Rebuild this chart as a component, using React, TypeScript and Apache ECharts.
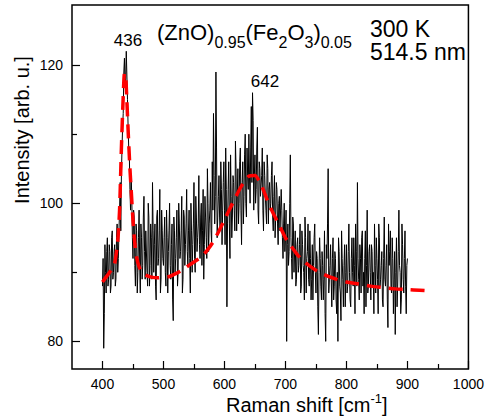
import React, { useEffect, useRef } from "react";
import * as echarts from "echarts";

// Raman spectrum (measured). Even wavenumbers 400..900 and odd wavenumbers 401..899
const specYEven = [
  88, 79, 94, 87, 95, 89, 93, 88, 96, 90, // 400-418
  94, 89, 97, 92, 99, 96, 108, 113, 121, 118, // 420-438
  122, 111, 107, 99, 101, 92, 98, 88, 96, 90, // 440-458
  99, 87, 95, 91, 101, 89, 96, 88, 98, 91, // 460-478
  95, 103, 90, 97, 86, 99, 92, 102, 89, 96, // 480-498
  91, 98, 88, 95, 93, 100, 89, 97, 83, 96, // 500-518
  92, 99, 90, 97, 93, 101, 89, 98, 94, 102, // 520-538
  91, 99, 87, 96, 94, 103, 90, 98, 95, 104, // 540-558
  92, 100, 96, 89, 101, 95, 105, 93, 99, 96, // 560-578
  106, 113, 97, 119, 95, 101, 98, 106, 94, 103, // 580-598
  99, 108, 85, 102, 97, 107, 95, 104, 99, 109, // 600-618
  96, 105, 100, 108, 94, 106, 101, 110, 98, 104, // 620-638
  110, 100, 114, 116, 99, 107, 102, 111, 97, 105, // 640-658
  101, 108, 96, 104, 99, 107, 97, 103, 100, 106, // 660-678
  96, 104, 98, 102, 94, 101, 96, 99, 92, 100, // 680-698
  95, 80, 97, 93, 107, 92, 98, 90, 96, 89, // 700-718
  95, 91, 97, 88, 94, 90, 98, 87, 93, 89, // 720-738
  96, 86, 94, 91, 97, 87, 92, 81, 95, 88, // 740-758
  93, 86, 96, 80, 92, 105, 89, 94, 85, 95, // 760-778
  88, 92, 84, 80, 93, 87, 96, 89, 91, 85, // 780-798
  94, 88, 97, 86, 92, 90, 95, 84, 93, 103, // 800-818
  89, 94, 87, 96, 90, 92, 85, 99, 88, 94, // 820-838
  86, 93, 90, 97, 87, 92, 84, 95, 89, 93, // 840-858
  85, 98, 88, 94, 82, 91, 96, 87, 92, 89, // 860-878
  81, 95, 88, 99, 90, 86, 94, 87, 96, 84, // 880-898
  92, // 900
];
const specYOdd = [
  92, 84, 90, 93, 88, 94, 87, 95, 89, 93, // 401-419
  88, 95, 90, 96, 103, 104, 111, 119, 117, 122, // 421-439
  115, 108, 102, 104, 95, 99, 91, 97, 87, 95, // 441-459
  91, 97, 89, 98, 93, 96, 90, 100, 88, 97, // 461-479
  89, 96, 94, 88, 98, 91, 96, 87, 99, 92, // 481-499
  95, 90, 99, 87, 96, 91, 94, 86, 98, 90, // 501-519
  95, 88, 100, 92, 96, 87, 99, 91, 97, 93, // 521-539
  96, 92, 100, 90, 97, 92, 101, 93, 97, 94, // 541-559
  98, 91, 102, 94, 98, 92, 100, 97, 103, 94, // 561-579
  99, 104, 101, 108, 98, 104, 96, 102, 99, 106, // 581-599
  94, 102, 97, 106, 92, 101, 98, 103, 96, 105, // 601-619
  101, 97, 106, 99, 103, 97, 107, 100, 108, 102, // 621-639
  104, 108, 103, 112, 104, 100, 108, 99, 106, 101, // 641-659
  104, 99, 106, 101, 97, 105, 102, 99, 104, 98, // 661-679
  101, 95, 103, 97, 100, 96, 102, 95, 97, 93, // 681-699
  99, 94, 91, 100, 95, 89, 97, 93, 88, 94, // 701-719
  90, 94, 87, 96, 91, 86, 95, 92, 97, 88, // 721-739
  92, 89, 86, 95, 90, 93, 85, 90, 92, 86, // 741-759
  91, 89, 84, 94, 97, 87, 91, 89, 92, 86, // 761-779
  93, 86, 90, 95, 88, 83, 92, 85, 94, 90, // 781-799
  87, 93, 90, 85, 95, 88, 91, 97, 88, 92, // 801-819
  86, 92, 95, 88, 84, 96, 91, 87, 93, 90, // 821-839
  94, 88, 84, 91, 95, 89, 97, 88, 91, 86, // 841-859
  92, 89, 91, 86, 97, 93, 88, 95, 84, 93, // 861-879
  90, 85, 93, 91, 84, 97, 89, 92, 88, 91, // 881-899
];
const specStart = 400;

// Fitted curve (red dashed)
const fitX = [
  400, 410, 415, 420, 425, 428, 431, 434, 436, 438, 440, 442, 445, 447, 450, 453, 456, 460, 465, 470,
  480, 490, 500, 510, 520, 530, 540, 550, 560, 570, 580, 590, 600, 610, 620, 630, 640, 650, 660, 670,
  680, 690, 700, 710, 720, 730, 740, 750, 760, 770, 780, 790, 800, 820, 840, 860, 880, 900, 920, 940,
];
const fitY = [
  88.6, 89.8, 90.4, 91.3, 94.5, 99, 108, 115.5, 118.8, 118.4, 114.8, 110.6, 105, 102, 97.5, 94.2, 92.2, 90.8, 90, 89.6,
  89.3, 89.2, 89.3, 89.4, 89.8, 90.3, 90.9, 91.5, 92.1, 93, 94.2, 95.8, 97.6, 99.4, 101.2, 102.8, 103.9, 104, 102.7, 100.5,
  98.5, 96.8, 95, 93.7, 92.5, 91.6, 90.9, 90.3, 89.8, 89.4, 89.1, 88.8, 88.6, 88.3, 88, 87.8, 87.6, 87.5, 87.4, 87.3,
];

const xMajorTicks = [400, 500, 600, 700, 800, 900, 1000];
const xMinorTicks = [450, 550, 650, 750, 850, 950];
const yMajorTicks = [80, 100, 120];
const yMinorTicks = [90, 110];

const peakLabels = ["436", "642"];

export default function App() {
  const ref = useRef<HTMLDivElement>(null);
  useEffect(() => {
    const chart = echarts.init(ref.current!, null, { renderer: "svg" });
    const ff = "'Liberation Sans', Arial, Helvetica, sans-serif";
    const spec: number[][] = [];
    specYEven.forEach((v, i) => {
      spec.push([specStart + 2 * i, v]);
      if (i < specYOdd.length) spec.push([specStart + 2 * i + 1, specYOdd[i]]);
    });
    const fit = fitX.map((x, i) => [x, fitY[i]]);
    const tickStyle = { color: "#000", width: 1.2 };
    const txt = (text: string, x: number, y: number, fontSize: number, align = "left", extra: any = {}) => ({
      type: "text",
      x,
      y,
      ...extra,
      style: { text, fontSize, fontFamily: ff, fill: "#000", align, verticalAlign: "middle" },
      z: 100,
    });
    const option: any = {
      animation: false,
      backgroundColor: "#fff",
      grid: {
        left: 72,
        right: 16,
        top: 5,
        bottom: 51,
        show: true,
        borderColor: "#000",
        borderWidth: 1.5,
        backgroundColor: "transparent",
      },
      xAxis: [
        {
          type: "value",
          min: 350,
          max: 1000,
          position: "bottom",
          axisLine: { show: false },
          splitLine: { show: false },
          axisTick: { show: true, inside: true, length: 8, customValues: xMajorTicks, lineStyle: tickStyle },
          axisLabel: {
            show: true,
            customValues: xMajorTicks,
            margin: 8,
            fontSize: 14,
            color: "#000",
            fontFamily: ff,
            formatter: (v: number) => String(v),
          },
        },
        {
          type: "value",
          min: 350,
          max: 1000,
          position: "bottom",
          axisLine: { show: false },
          splitLine: { show: false },
          axisTick: { show: true, inside: true, length: 5, customValues: xMinorTicks, lineStyle: tickStyle },
          axisLabel: { show: false },
        },
      ],
      yAxis: [
        {
          type: "value",
          min: 76,
          max: 128.7,
          position: "left",
          axisLine: { show: false },
          splitLine: { show: false },
          axisTick: { show: true, inside: true, length: 8, customValues: yMajorTicks, lineStyle: tickStyle },
          axisLabel: {
            show: true,
            customValues: yMajorTicks,
            margin: 9,
            fontSize: 14,
            color: "#000",
            fontFamily: ff,
            formatter: (v: number) => String(v),
          },
        },
        {
          type: "value",
          min: 76,
          max: 128.7,
          position: "left",
          axisLine: { show: false },
          splitLine: { show: false },
          axisTick: { show: true, inside: true, length: 5, customValues: yMinorTicks, lineStyle: tickStyle },
          axisLabel: { show: false },
        },
      ],
      series: [
        {
          type: "line",
          data: spec,
          xAxisIndex: 0,
          yAxisIndex: 0,
          symbol: "none",
          lineStyle: { color: "#000", width: 1.0 },
          z: 2,
        },
        {
          type: "line",
          data: fit,
          xAxisIndex: 0,
          yAxisIndex: 0,
          symbol: "none",
          smooth: 0.2,
          lineStyle: { color: "#ff0000", width: 3.5, type: [14, 8] },
          z: 3,
        },
      ],
      graphic: [
        // peak labels
        txt(peakLabels[0], 128, 40, 17, "center"),
        txt(peakLabels[1], 265, 81, 17, "center"),
        // composition title
        txt("(ZnO)", 157, 32, 22),
        txt("0.95", 214.4, 42.5, 16),
        txt("(Fe", 245.5, 32, 22),
        txt("2", 278.5, 42.5, 16),
        txt("O", 287.4, 32, 22),
        txt("3", 304.5, 42.5, 16),
        txt(")", 313.4, 32, 22),
        txt("0.05", 320.7, 42.5, 16),
        // conditions
        txt("300 K", 370, 28.5, 23),
        txt("514.5", 370, 52, 23),
        txt("nm", 466, 52, 23, "right"),
        // axis titles
        txt("Intensity [arb. u.]", 22, 130, 20, "center", { rotation: Math.PI / 2 }),
        txt("Raman shift [cm", 226, 404.5, 20),
        txt("-1", 370.5, 398, 13),
        txt("]", 382, 404.5, 20),
      ],
    };
    chart.setOption(option);
    return () => chart.dispose();
  }, []);
  return (
    <div
      ref={ref}
      style={{ position: "fixed", left: 0, top: 0, width: 487, height: 420, background: "#fff" }}
    />
  );
}
